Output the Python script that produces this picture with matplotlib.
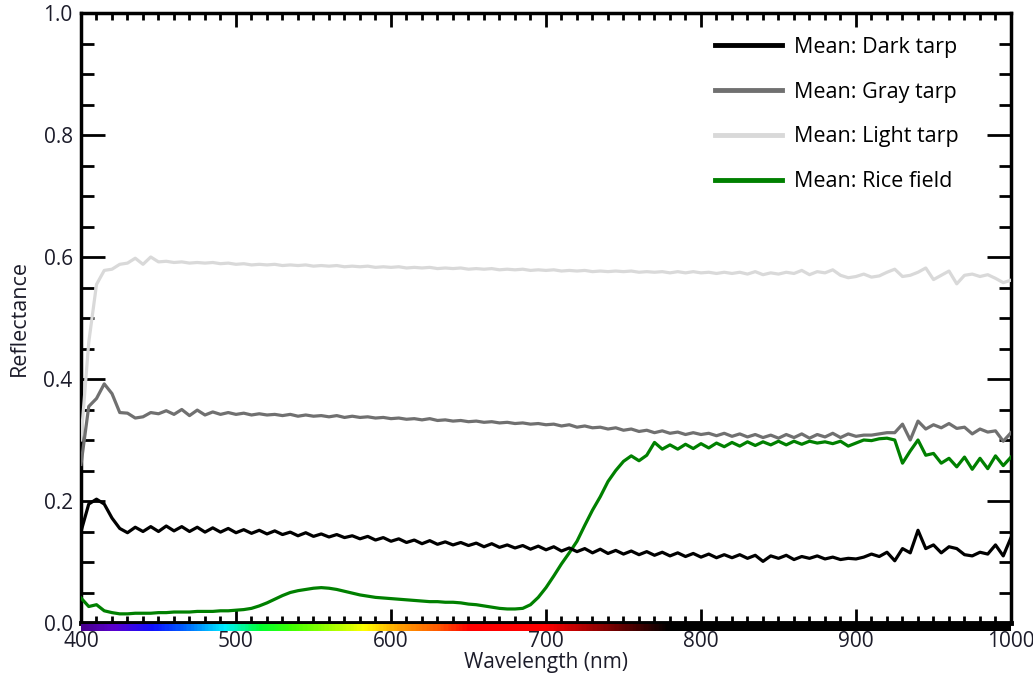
import numpy as np
import matplotlib
matplotlib.use('Agg')
import matplotlib.pyplot as plt
from matplotlib import rcParams
from matplotlib.colors import LinearSegmentedColormap
from matplotlib.ticker import MultipleLocator

rcParams['font.family'] = ['Open Sans', 'DejaVu Sans']
rcParams['font.size'] = 14

# wavelengths (nm), 5 nm steps from 400 to 1000
wavelength = np.arange(400, 1001, 5)

light_tarp = [
    0.300, 0.460, 0.555, 0.578, 0.580, 0.588, 0.590, 0.598, 0.588, 0.600,
    0.592, 0.593, 0.591, 0.592, 0.590, 0.591, 0.590, 0.591, 0.589, 0.590,
    0.588, 0.589, 0.587, 0.588, 0.587, 0.588, 0.586, 0.587, 0.586, 0.587,
    0.585, 0.586, 0.585, 0.586, 0.584, 0.585, 0.584, 0.585, 0.583, 0.584,
    0.583, 0.584, 0.582, 0.583, 0.582, 0.583, 0.581, 0.582, 0.581, 0.582,
    0.580, 0.581, 0.580, 0.581, 0.579, 0.580, 0.579, 0.580, 0.578, 0.579,
    0.578, 0.579, 0.577, 0.578, 0.577, 0.578, 0.576, 0.577, 0.576, 0.577,
    0.576, 0.577, 0.575, 0.576, 0.575, 0.576, 0.574, 0.576, 0.574, 0.576,
    0.574, 0.575, 0.573, 0.575, 0.573, 0.575, 0.572, 0.576, 0.571, 0.574,
    0.572, 0.575, 0.573, 0.578, 0.571, 0.576, 0.574, 0.579, 0.570, 0.566,
    0.568, 0.572, 0.567, 0.569, 0.575, 0.580, 0.568, 0.570, 0.575, 0.582,
    0.563, 0.570, 0.577, 0.556, 0.570, 0.572, 0.568, 0.571, 0.565, 0.558,
    0.562,
]

gray_tarp = [
    0.260, 0.355, 0.368, 0.392, 0.376, 0.345, 0.344, 0.336, 0.338, 0.345,
    0.343, 0.348, 0.342, 0.350, 0.340, 0.349, 0.341, 0.346, 0.342, 0.345,
    0.342, 0.344, 0.341, 0.343, 0.341, 0.342, 0.340, 0.342, 0.339, 0.341,
    0.339, 0.340, 0.338, 0.340, 0.337, 0.339, 0.337, 0.338, 0.336, 0.337,
    0.335, 0.336, 0.334, 0.335, 0.333, 0.335, 0.332, 0.333, 0.331, 0.332,
    0.330, 0.331, 0.329, 0.330, 0.328, 0.329, 0.327, 0.328, 0.326, 0.327,
    0.325, 0.326, 0.323, 0.325, 0.321, 0.323, 0.320, 0.321, 0.318, 0.320,
    0.316, 0.318, 0.314, 0.316, 0.312, 0.315, 0.311, 0.313, 0.309, 0.312,
    0.309, 0.311, 0.307, 0.311, 0.306, 0.310, 0.305, 0.309, 0.304, 0.308,
    0.303, 0.309, 0.304, 0.310, 0.303, 0.309, 0.305, 0.311, 0.304, 0.310,
    0.306, 0.308, 0.308, 0.310, 0.312, 0.312, 0.326, 0.300, 0.331, 0.318,
    0.325, 0.320, 0.327, 0.319, 0.321, 0.310, 0.318, 0.313, 0.315, 0.298,
    0.312,
]

dark_tarp = [
    0.150, 0.195, 0.203, 0.195, 0.172, 0.155, 0.148, 0.157, 0.150, 0.158,
    0.150, 0.159, 0.151, 0.158, 0.150, 0.157, 0.149, 0.156, 0.149, 0.155,
    0.148, 0.153, 0.147, 0.152, 0.146, 0.151, 0.145, 0.149, 0.143, 0.148,
    0.142, 0.146, 0.141, 0.145, 0.140, 0.143, 0.138, 0.142, 0.136, 0.140,
    0.134, 0.138, 0.132, 0.136, 0.130, 0.135, 0.129, 0.133, 0.128, 0.132,
    0.127, 0.131, 0.125, 0.130, 0.124, 0.128, 0.123, 0.127, 0.121, 0.126,
    0.120, 0.125, 0.118, 0.123, 0.117, 0.122, 0.115, 0.121, 0.114, 0.119,
    0.113, 0.118, 0.112, 0.117, 0.111, 0.116, 0.110, 0.115, 0.109, 0.114,
    0.108, 0.113, 0.107, 0.112, 0.107, 0.112, 0.106, 0.111, 0.101, 0.110,
    0.106, 0.111, 0.104, 0.109, 0.106, 0.110, 0.105, 0.108, 0.104, 0.106,
    0.105, 0.108, 0.113, 0.109, 0.116, 0.102, 0.122, 0.115, 0.152, 0.122,
    0.128, 0.115, 0.125, 0.122, 0.112, 0.110, 0.116, 0.113, 0.128, 0.110,
    0.140,
]

rice_field = [
    0.041, 0.027, 0.030, 0.020, 0.017, 0.015, 0.015, 0.016, 0.016, 0.016,
    0.017, 0.017, 0.018, 0.018, 0.018, 0.019, 0.019, 0.019, 0.020, 0.020,
    0.021, 0.022, 0.024, 0.028, 0.033, 0.039, 0.045, 0.050, 0.053, 0.055,
    0.057, 0.058, 0.057, 0.055, 0.052, 0.049, 0.046, 0.044, 0.042, 0.041,
    0.040, 0.039, 0.038, 0.037, 0.036, 0.035, 0.035, 0.034, 0.034, 0.033,
    0.031, 0.030, 0.028, 0.026, 0.024, 0.023, 0.023, 0.024, 0.030, 0.042,
    0.058, 0.077, 0.097, 0.115, 0.134, 0.160, 0.185, 0.207, 0.232, 0.250,
    0.265, 0.274, 0.266, 0.275, 0.296, 0.285, 0.292, 0.285, 0.293, 0.286,
    0.294, 0.287, 0.295, 0.289, 0.296, 0.290, 0.297, 0.291, 0.297, 0.292,
    0.298, 0.292, 0.298, 0.293, 0.298, 0.295, 0.297, 0.294, 0.298, 0.290,
    0.295, 0.300, 0.299, 0.302, 0.303, 0.300, 0.262, 0.282, 0.300, 0.275,
    0.278, 0.262, 0.270, 0.256, 0.272, 0.252, 0.270, 0.253, 0.274, 0.258,
    0.272,
]

series_labels = ['Mean: Dark tarp', 'Mean: Gray tarp', 'Mean: Light tarp', 'Mean: Rice field']
series_colors = ['#000000', '#707070', '#d9d9d9', '#008000']

# colour stops of the spectrum strip under the x axis
spectrum_nm = [400, 420, 445, 465, 492, 515, 535, 570, 582, 605, 630, 650, 700, 780, 1000]
spectrum_col = ['#4a0090', '#5a00d0', '#1010ff', '#0060ff', '#00f0ff', '#00ff30', '#40ff00',
                '#c8ff00', '#ffff00', '#ffa000', '#ff5a00', '#ff0000', '#ff0000', '#000000', '#000000']

# %%
fig = plt.figure(figsize=(10.33, 6.73), dpi=100)
ax = fig.add_axes([81 / 1033, 1 - 623 / 673, 930 / 1033, 610 / 673])

data = [dark_tarp, gray_tarp, light_tarp, rice_field]
# draw light first so darker lines sit on top, but keep legend order
for idx in [2, 1, 3, 0]:
    ax.plot(wavelength, data[idx], color=series_colors[idx], lw=2.3, label=series_labels[idx], zorder=3)

# spectrum strip
stops = [(w - 400) / 600 for w in spectrum_nm]
cmap = LinearSegmentedColormap.from_list('spec', list(zip(stops, spectrum_col)))
grad = np.linspace(0, 1, 600).reshape(1, -1)
ax.imshow(grad, cmap=cmap, aspect='auto', extent=(400, 1000, -0.0125, -0.002),
          clip_on=False, zorder=5, interpolation='bilinear')

ax.set_xlim(400, 1000)
ax.set_ylim(0, 1.0)
ax.xaxis.set_major_locator(MultipleLocator(100))
ax.xaxis.set_minor_locator(MultipleLocator(10))
ax.yaxis.set_major_locator(MultipleLocator(0.2))
ax.yaxis.set_minor_locator(MultipleLocator(0.05))
ax.yaxis.set_major_formatter(plt.FormatStrFormatter('%.1f'))

for s in ax.spines.values():
    s.set_linewidth(2.5)
ax.spines['bottom'].set_linewidth(3.5)

ax.tick_params(which='both', direction='in', top=True, right=True, colors='black',
               labelcolor='#1c1c2a', labelsize=15)
ax.tick_params(axis='x', which='major', length=10, width=2, pad=5.5)
ax.tick_params(axis='x', which='minor', length=5, width=2)
ax.tick_params(axis='y', which='major', length=17, width=2, pad=6)
ax.tick_params(axis='y', which='minor', length=9, width=2)

ax.set_xlabel('Wavelength (nm)', fontsize=15, color='#1c1c2a', labelpad=0)
ax.set_ylabel('Reflectance', fontsize=15.5, color='#1c1c2a', labelpad=10)

handles, labels = ax.get_legend_handles_labels()
order = [labels.index(l) for l in series_labels]
leg = ax.legend([handles[i] for i in order], [labels[i] for i in order],
                loc='upper left', bbox_to_anchor=(715 / 1033, 1 - 37 / 673),
                bbox_transform=fig.transFigure, frameon=False, fontsize=15.5,
                handlelength=3.1, handletextpad=0.55, labelspacing=1.1,
                borderpad=0, borderaxespad=0)
for line in leg.get_lines():
    line.set_linewidth(3.5)

fig.savefig('out.png', dpi=100)
